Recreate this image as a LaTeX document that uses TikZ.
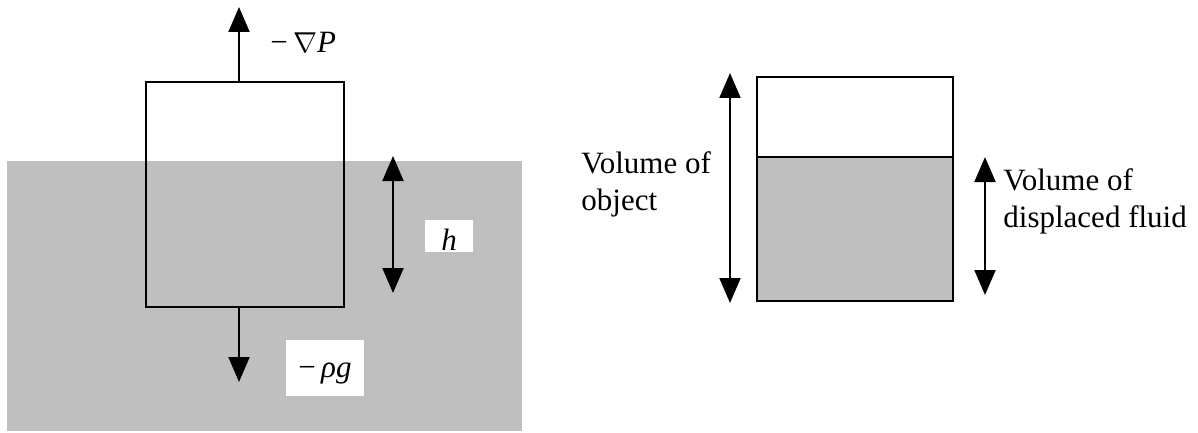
\documentclass[tikz,border=0pt]{standalone}
\usepackage{fontspec}
\setmainfont{Liberation Serif}
\usetikzlibrary{arrows.meta}
\definecolor{fluid}{RGB}{191,191,191}
\begin{document}
\begin{tikzpicture}[x=0.5pt,y=-0.5pt,
  outline/.style={draw=black, line width=1.4pt, inner sep=0pt, outer sep=0pt},
  tipshape/.style={},
  force/.style={line width=1pt, -{Triangle[width=10.5pt,length=12.5pt]}},
  dim/.style={line width=1pt, {Triangle[width=10.5pt,length=12.5pt]}-{Triangle[width=10.5pt,length=12.5pt]}},
  lbl/.style={font=\fontsize{15.5}{18.5}\selectfont, inner sep=0pt},
  whitelbl/.style={lbl, fill=white, align=center},
  ]
\useasboundingbox (0,0) rectangle (1198,433);
% fluid region
\node[fill=fluid, inner sep=0pt, minimum width=257.5pt, minimum height=135pt] (fluid) at (264.5,296) {};
% immersed object
\node[outline, minimum width=99pt, minimum height=112.5pt] (obj) at (245,194.5) {};
\coordinate (upTip) at (239,7);
\coordinate (downTip) at (239,382);
\draw[force] (obj.north -| upTip) -- (upTip);
\draw[force] (obj.south -| downTip) -- (downTip);
\node[lbl, anchor=base west] (gradP) at (270,53) {−\,$\nabla$\textit{P}};
% h dimension
\coordinate (hTop) at (393,156);
\coordinate (hBot) at (393,293);
\draw[dim] (hTop) -- (hBot);
\node[whitelbl, minimum width=24pt, text height=15pt, text depth=1pt] (hlab) at (449,220) [anchor=north] {\textit{h}};
\node[whitelbl, minimum width=39pt, text height=18.5pt, text depth=9.5pt] (rholab) at (325,340) [anchor=north] {−\,\textit{ρg}};
% right figure
\node[fill=fluid, inner sep=0pt, minimum width=98pt, minimum height=72pt] (displaced) at (855,229) {};
\node[outline, minimum width=98pt, minimum height=112pt] (vessel) at (855,189) {};
\coordinate (lvl) at (855,157);
\draw[line width=1.4pt] (vessel.west |- lvl) -- (vessel.east |- lvl);
\coordinate (voTop) at (730,73);
\coordinate (voBot) at (730,303);
\draw[dim] (voTop) -- (voBot);
\coordinate (vdTop) at (985,157);
\coordinate (vdBot) at (985,295);
\draw[dim] (vdTop) -- (vdBot);
\node[lbl, anchor=west, align=left] (volobj) at (581,184) {Volume of\\object};
\node[lbl, anchor=west, align=left] (voldisp) at (1003,201) {Volume of\\displaced fluid};
\end{tikzpicture}
\end{document}
